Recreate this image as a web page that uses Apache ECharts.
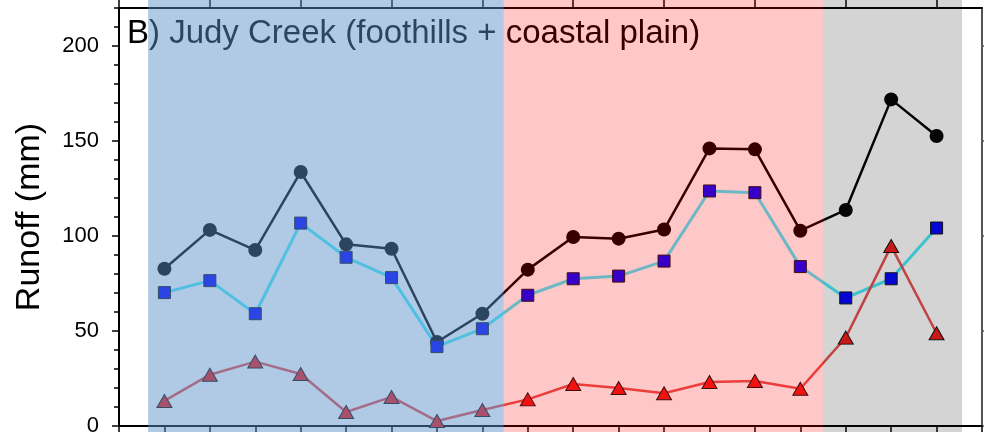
<!DOCTYPE html>
<html>
<head>
<meta charset="utf-8">
<script src="https://cdn.jsdelivr.net/npm/echarts@6/dist/echarts.min.js"></script>
<style>
html,body{margin:0;padding:0;background:#fff;}
#chart{width:984px;height:432px;}
</style>
</head>
<body>
<div id="chart"></div>
<script>
// Site/time positions along the x axis
const positions = [1,2,3,4,5,6,7,8,9,10,11,12,13,14,15,16,17,18];
// Series values (mm)
const totalRunoff = [82.8,103.2,92.6,133.7,95.6,93.3,44.2,59.1,82.3,99.5,98.6,103.4,146.1,145.6,102.8,113.7,171.9,152.6];
const baseflow    = [70.2,76.5,59.1,106.8,88.8,78.1,41.8,51.2,68.8,77.5,78.9,86.8,123.7,122.8,83.9,67.4,77.5,104.2];
const quickflow   = [13.2,27.0,33.9,27.4,7.4,15.3,2.6,8.4,14.0,22.1,20.0,17.2,23.2,23.7,19.6,46.5,94.7,48.8];
// Shaded regions [start, end]
const regionStart = [0.64, 8.47, 15.5];
const regionEnd   = [8.47, 15.5, 18.56];
// Tick values
const yTickValues = [0,50,100,150,200];
const topTickValues = [0,2,4,6,8,10,12,14,16,18];

const regionColors = ['rgba(90,144,200,0.48)','rgba(255,0,0,0.216)','rgba(26,26,26,0.19)'];

const chart = echarts.init(document.getElementById('chart'), null, {renderer:'canvas'});
const font = 'Liberation Sans, Arial, sans-serif';

function pts(vals){ return positions.map((x,i)=>[x, vals[i]]); }

const option = {
  animation:false,
  backgroundColor:'#ffffff',
  title:{
    text:'B) Judy Creek (foothills + coastal plain)',
    left:127, top:17, padding:0,
    textStyle:{fontFamily:font, fontSize:33, fontWeight:'normal', color:'#000'}
  },
  grid:{left:119, right:2, top:8, bottom:6, containLabel:false, outerBoundsMode:'none'},
  xAxis:[
    {type:'value', position:'bottom', min:0, max:19, interval:1,
     axisLine:{show:true, onZero:false, lineStyle:{color:'#000', width:2}},
     axisTick:{show:true, inside:false, length:8, lineStyle:{color:'#000', width:1.5}},
     axisLabel:{show:false}, splitLine:{show:false}},
    {type:'value', position:'top', min:0, max:19,
     axisLine:{show:true, onZero:false, lineStyle:{color:'#000', width:2}},
     axisTick:{show:true, inside:false, length:8, customValues:topTickValues, lineStyle:{color:'#000', width:1.5}},
     axisLabel:{show:false}, splitLine:{show:false}}
  ],
  yAxis:[
    {type:'value', position:'left', min:0, max:220, interval:10,
     name:'Runoff (mm)', nameLocation:'middle', nameGap:72,
     nameTextStyle:{fontFamily:font, fontSize:34, color:'#000'},
     axisLine:{show:true, onZero:false, lineStyle:{color:'#000', width:2}},
     axisTick:{show:true, inside:false, length:5, lineStyle:{color:'#000', width:1.5}},
     axisLabel:{show:true, margin:20, customValues:yTickValues, fontFamily:font, fontSize:22, color:'#000'},
     splitLine:{show:false}},
    {type:'value', position:'left', min:0, max:220,
     axisLine:{show:false},
     axisTick:{show:true, inside:false, length:7, customValues:yTickValues, lineStyle:{color:'#000', width:1.5}},
     axisLabel:{show:false}, splitLine:{show:false}},
    {type:'value', position:'right', min:0, max:220,
     axisLine:{show:true, onZero:false, lineStyle:{color:'#555', width:2}},
     axisTick:{show:true, inside:false, length:7, customValues:yTickValues, lineStyle:{color:'#555', width:1.5}},
     axisLabel:{show:false}, splitLine:{show:false}}
  ],
  series:[
    {type:'line', name:'Total', data:pts(totalRunoff), z:3,
     symbol:'circle', symbolSize:14,
     lineStyle:{color:'#000', width:2.5},
     itemStyle:{color:'#000', borderColor:'#000', borderWidth:0}},
    {type:'line', name:'Baseflow', data:pts(baseflow), z:3,
     symbol:'rect', symbolSize:12,
     lineStyle:{color:'#46ebfa', width:3},
     itemStyle:{color:'#0000ff', borderColor:'#111', borderWidth:1}},
    {type:'line', name:'Quickflow', data:pts(quickflow), z:3,
     symbol:'triangle', symbolSize:[15,13],
     lineStyle:{color:'#e74e4e', width:2.5},
     itemStyle:{color:'#f01818', borderColor:'#111', borderWidth:1}},
    {type:'custom', name:'regions', z:10, silent:true, clip:false,
     data: regionStart.map((s,i)=>[s, regionEnd[i], 0]),
     encode:{x:[0,1], y:2},
     renderItem:function(params, api){
       const x0 = api.coord([api.value(0), 0])[0];
       const x1 = api.coord([api.value(1), 0])[0];
       return {type:'rect', shape:{x:x0, y:0, width:x1-x0, height:api.getHeight()},
               style:{fill:regionColors[params.dataIndex]}};
     }}
  ]
};
chart.setOption(option);
</script>
</body>
</html>
